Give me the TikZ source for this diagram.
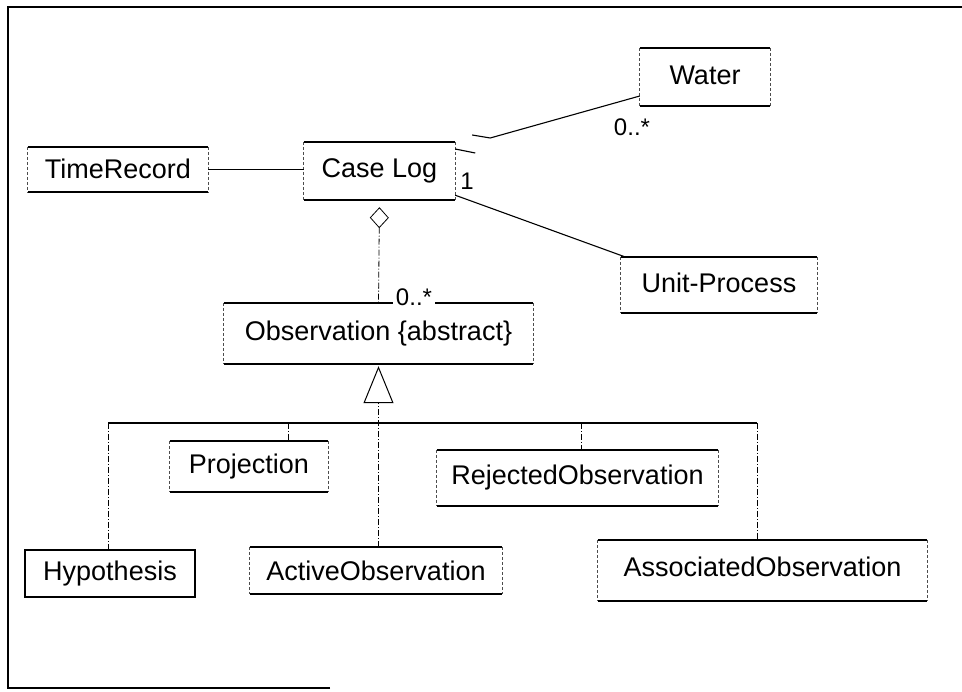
\documentclass[tikz,border=0pt]{standalone}
\usepackage{fontspec}
\setmainfont{Liberation Sans}
\usetikzlibrary{arrows.meta}

\tikzset{
  cls/.style={inner sep=0pt, draw=none, font=\fontsize{27}{31}\selectfont},
  rule/.style={line width=1.5pt},
  side/.style={line width=0.7pt, dash pattern=on 3pt off 2pt, black!70},
  assoc/.style={line width=1.1pt},
  inh/.style={line width=0.8pt, dash pattern=on 6pt off 2pt on 1pt off 2pt},
  frame/.style={line width=1.8pt},
  mult/.style={font=\fontsize{24}{28}\selectfont, inner sep=1pt}
}

\begin{document}
\begin{tikzpicture}[x=1pt, y=-1pt]
  \useasboundingbox (0,0) rectangle (962,692);

  % outer frame
  \draw[frame] (330,688) -- (8,688) -- (8,7) -- (962,7);

  % classes
  \node[cls, minimum width=130pt, minimum height=58pt] (water) at (705,77) {\raisebox{4pt}{Water}};
  \node[cls, minimum width=180pt, minimum height=45pt] (timerec) at (118,169.5) {\raisebox{2pt}{TimeRecord}};
  \node[cls, minimum width=151pt, minimum height=58pt] (caselog) at (379.5,171) {\raisebox{5pt}{Case Log}};
  \node[cls, minimum width=196pt, minimum height=56pt] (unitproc) at (719,285) {\raisebox{4pt}{Unit-Process}};
  \node[cls, minimum width=309pt, minimum height=61pt] (obs) at (378.5,333.5) {\raisebox{5pt}{Observation \{abstract\}}};
  \node[cls, minimum width=158pt, minimum height=51pt] (proj) at (249,466.5) {\raisebox{3pt}{Projection}};
  \node[cls, minimum width=281pt, minimum height=56pt] (rej) at (577.5,478) {\raisebox{3pt}{RejectedObservation}};
  \node[cls, minimum width=170pt, minimum height=47pt] (hyp) at (110,573.5) {Hypothesis};
  \node[cls, minimum width=252pt, minimum height=47pt] (active) at (376,570.5) {ActiveObservation};
  \node[cls, minimum width=329pt, minimum height=61pt] (assocobs) at (762.5,570.5) {\raisebox{7pt}{AssociatedObservation}};

  % class outlines: solid top and bottom rules, light sides
  \foreach \n in {water,timerec,caselog,unitproc,obs,proj,rej,active,assocobs} {
    \draw[rule] (\n.north west) -- (\n.north east);
    \draw[rule] (\n.south west) -- (\n.south east);
    \draw[side] (\n.north west) -- (\n.south west);
    \draw[side] (\n.north east) -- (\n.south east);
  }
  \draw[rule] (hyp.south west) rectangle (hyp.north east);

  % associations of Case Log
  \draw[assoc] (timerec.east) -- (caselog.west |- timerec.east);
  \draw[assoc] ([yshift=22pt]caselog.east) -- ++(20,4);
  \draw[assoc] ([xshift=17pt,yshift=36pt]caselog.east) -- ++(18,3) -- ([yshift=-19pt]water.west);
  \draw[assoc] ([yshift=5pt]caselog.south east) -- ([xshift=4pt]unitproc.north west);
  \node[mult] (one) at (467,181) {1};
  \node[mult] (wmult) at (632,127) {0..*};

  % aggregation of observations
  \draw[inh, {Diamond[open, length=21pt, width=19pt, line width=0.8pt, sep=7pt]}-]
    (caselog.south) -- (obs.north);
  \node[mult, fill=white, inner xsep=3pt] (omult) at (414,297) {0..*};

  % generalisation tree
  \coordinate (barL) at (108,423);
  \coordinate (barR) at (757,423);
  \draw[assoc] (barL) -- (barR);
  \draw[inh, -{Triangle[open, length=37pt, width=30pt, line width=1pt, sep=2pt]}]
    (obs.south |- active.north) -- (obs.south);
  \draw[inh] (barL) -- (barL |- hyp.north);
  \draw[inh] (288,423) -- (288,441);
  \draw[inh] (581,423) -- (581,450);
  \draw[inh] (barR) -- (barR |- assocobs.north);
\end{tikzpicture}
\end{document}
